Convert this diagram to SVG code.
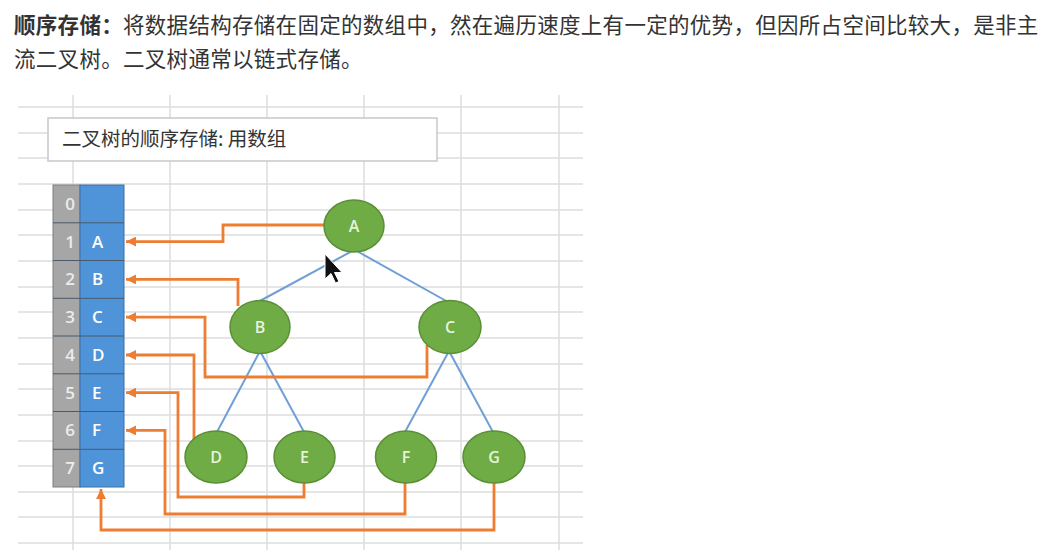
<svg xmlns="http://www.w3.org/2000/svg" width="1046" height="553" viewBox="0 0 1046 553">
  <defs>
    <style>
      .hdr { font-family: "Noto Sans CJK SC", "Noto Sans", sans-serif; font-size: 21.5px; fill: #333333; letter-spacing: 0.3px; }
      .grid line { stroke: #dcdcdc; stroke-width: 1.5; }
      .idx { fill: #a6a6a6; stroke: #7f7f7f; stroke-width: 1; }
      .val { fill: #4f93d8; stroke: #3b6fa5; stroke-width: 1; }
      .rowsep { stroke: #4a5a6a; stroke-width: 1; }
      .idxt { font-family: "Open Sans", "Liberation Sans", sans-serif; font-size: 17px; font-weight: 600; fill: #ececec; text-anchor: middle; }
      .valt { font-family: "Open Sans", "Liberation Sans", sans-serif; font-size: 17px; font-weight: 600; fill: #ffffff; }
      .node ellipse { fill: #6fac46; stroke: #5a8f36; stroke-width: 1.5; }
      .node text { font-family: "Open Sans", "Liberation Sans", sans-serif; font-size: 16px; font-weight: 600; fill: #e6f4dc; text-anchor: middle; }
      .edge { stroke: #6f9fd6; stroke-width: 2; fill: none; }
      .ptr { stroke: #ed7d31; stroke-width: 2.8; fill: none; marker-end: url(#ah); }
    </style>
    <marker id="ah" viewBox="0 0 10 10" refX="10" refY="5" markerWidth="11" markerHeight="10" markerUnits="userSpaceOnUse" orient="auto">
      <path d="M0,0 L10,5 L0,10 z" fill="#ed7d31"/>
    </marker>
  </defs>
  <rect width="1046" height="553" fill="#ffffff"/>

  <g id="header">
    <text class="hdr" x="14" y="33"><tspan font-weight="bold">顺序存储：</tspan>将数据结构存储在固定的数组中，然在遍历速度上有一定的优势，但因所占空间比较大，是非主</text>
    <text class="hdr" x="14" y="67">流二叉树。二叉树通常以链式存储。</text>
  </g>

  <g id="grid" class="grid">
    <line x1="73" y1="95" x2="73" y2="550"/>
    <line x1="170" y1="95" x2="170" y2="550"/>
    <line x1="267" y1="95" x2="267" y2="550"/>
    <line x1="364" y1="95" x2="364" y2="550"/>
    <line x1="461" y1="95" x2="461" y2="550"/>
    <line x1="559" y1="95" x2="559" y2="550"/>
    <line x1="18" y1="107" x2="583" y2="107"/>
    <line x1="18" y1="133" x2="583" y2="133"/>
    <line x1="18" y1="158" x2="583" y2="158"/>
    <line x1="18" y1="184" x2="583" y2="184"/>
    <line x1="18" y1="210" x2="583" y2="210"/>
    <line x1="18" y1="235" x2="583" y2="235"/>
    <line x1="18" y1="261" x2="583" y2="261"/>
    <line x1="18" y1="287" x2="583" y2="287"/>
    <line x1="18" y1="312" x2="583" y2="312"/>
    <line x1="18" y1="338" x2="583" y2="338"/>
    <line x1="18" y1="364" x2="583" y2="364"/>
    <line x1="18" y1="389" x2="583" y2="389"/>
    <line x1="18" y1="415" x2="583" y2="415"/>
    <line x1="18" y1="441" x2="583" y2="441"/>
    <line x1="18" y1="466" x2="583" y2="466"/>
    <line x1="18" y1="492" x2="583" y2="492"/>
    <line x1="18" y1="517" x2="583" y2="517"/>
    <line x1="18" y1="543" x2="583" y2="543"/>
  </g>

  <g id="title">
    <rect x="48" y="118" width="389" height="43" fill="#ffffff" stroke="#c8c8c8" stroke-width="1.5"/>
    <text x="62" y="146" font-family="Noto Sans CJK SC, sans-serif" font-size="19.5" fill="#333333">二叉树的顺序存储: 用数组</text>
  </g>

  <g id="array">
    <rect class="idx" x="53" y="185" width="27" height="302"/>
    <rect class="val" x="80" y="185" width="44" height="302"/>
    <line class="rowsep" x1="53" y1="222.8" x2="124" y2="222.8"/>
    <line class="rowsep" x1="53" y1="260.5" x2="124" y2="260.5"/>
    <line class="rowsep" x1="53" y1="298.3" x2="124" y2="298.3"/>
    <line class="rowsep" x1="53" y1="336" x2="124" y2="336"/>
    <line class="rowsep" x1="53" y1="373.8" x2="124" y2="373.8"/>
    <line class="rowsep" x1="53" y1="411.5" x2="124" y2="411.5"/>
    <line class="rowsep" x1="53" y1="449.3" x2="124" y2="449.3"/>
    <text class="idxt" x="70" y="210">0</text>
    <text class="idxt" x="70" y="247.5">1</text>
    <text class="idxt" x="70" y="285">2</text>
    <text class="idxt" x="70" y="323">3</text>
    <text class="idxt" x="70" y="361">4</text>
    <text class="idxt" x="70" y="398.5">5</text>
    <text class="idxt" x="70" y="436">6</text>
    <text class="idxt" x="70" y="474">7</text>
    <text class="valt" x="92" y="247.5">A</text>
    <text class="valt" x="92" y="285">B</text>
    <text class="valt" x="92" y="323">C</text>
    <text class="valt" x="92" y="361">D</text>
    <text class="valt" x="92" y="398.5">E</text>
    <text class="valt" x="92" y="436">F</text>
    <text class="valt" x="92" y="474">G</text>
  </g>

  <g id="connectors">
    <line class="edge" x1="354" y1="250" x2="258" y2="302"/>
    <line class="edge" x1="355" y1="250" x2="448" y2="302"/>
    <line class="edge" x1="260" y1="351" x2="217" y2="432"/>
    <line class="edge" x1="260" y1="351" x2="304" y2="432"/>
    <line class="edge" x1="449" y1="351" x2="405" y2="432"/>
    <line class="edge" x1="449" y1="351" x2="493" y2="432"/>
    <path class="ptr" d="M325,225 H223 V241.6 H126"/>
    <path class="ptr" d="M238,306 V279.4 H126"/>
    <path class="ptr" d="M427,345 V377 H205 V317.2 H126"/>
    <path class="ptr" d="M194,440 V355 H126"/>
    <path class="ptr" d="M304,482 V497 H178 V392.7 H126"/>
    <path class="ptr" d="M405,482 V514 H165 V430.4 H126"/>
    <path class="ptr" d="M494,482 V530 H101 V489"/>
  </g>

  <g id="node-A" class="node"><ellipse cx="354" cy="226" rx="30" ry="26"/><text x="354" y="231.5">A</text></g>
  <g id="node-B" class="node"><ellipse cx="260" cy="327" rx="30" ry="26.5"/><text x="260" y="332.5">B</text></g>
  <g id="node-C" class="node"><ellipse cx="450" cy="327" rx="31" ry="26.5"/><text x="450" y="332.5">C</text></g>
  <g id="node-D" class="node"><ellipse cx="216" cy="457" rx="31" ry="26"/><text x="216" y="462.5">D</text></g>
  <g id="node-E" class="node"><ellipse cx="304.5" cy="457" rx="30.5" ry="26"/><text x="304.5" y="462.5">E</text></g>
  <g id="node-F" class="node"><ellipse cx="406" cy="457" rx="30.5" ry="26"/><text x="406" y="462.5">F</text></g>
  <g id="node-G" class="node"><ellipse cx="494" cy="457" rx="31" ry="26"/><text x="494" y="462.5">G</text></g>

  <g id="cursor">
    <polygon points="325,254 325,279 331,273.5 335.5,283 339,281.5 334.5,272.5 342,272.5" fill="#111111" stroke="#ffffff" stroke-width="1"/>
  </g>
</svg>
